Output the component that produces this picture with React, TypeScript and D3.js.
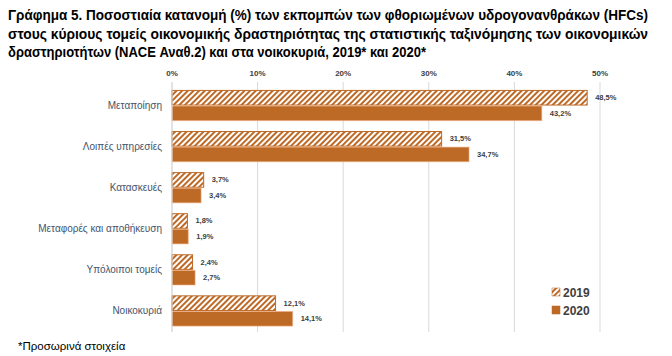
import React from "react";
import * as d3 from "d3";

const categories = [
  "Μεταποίηση",
  "Λοιπές υπηρεσίες",
  "Κατασκευές",
  "Μεταφορές και αποθήκευση",
  "Υπόλοιποι τομείς",
  "Νοικοκυριά",
];
const series = ["2019", "2020"];
const values2019 = [48.5, 31.5, 3.7, 1.8, 2.4, 12.1];
const values2020 = [43.2, 34.7, 3.4, 1.9, 2.7, 14.1];
const xTicks = [0, 10, 20, 30, 40, 50];
const titleLines = [
  "Γράφημα 5. Ποσοστιαία κατανομή (%) των εκπομπών των φθοριωμένων υδρογονανθράκων (HFCs)",
  "στους κύριους τομείς οικονομικής δραστηριότητας της στατιστικής ταξινόμησης των οικονομικών",
  "δραστηριοτήτων (NACE Αναθ.2) και στα νοικοκυριά, 2019* και 2020*",
];
const footnote = "*Προσωρινά στοιχεία";

const W = 672;
const H = 356;
const ORANGE = "#BD6A27";
const TXT = "#404040";
const FONT = "'Liberation Sans', Arial, sans-serif";

export default function App() {
  const x = d3.scaleLinear().domain([0, 50]).range([172, 600]);
  const y = d3
    .scaleBand<string>()
    .domain(categories)
    .range([85, 331.5])
    .paddingInner(0.24)
    .paddingOuter(0.12);
  const ySub = d3.scaleBand<string>().domain(series).range([0, y.bandwidth()]);
  const fmt = (v: number) => v.toFixed(1).replace(".", ",") + "%";
  const data = [values2019, values2020];
  const titleLens = [640, 640, 418];

  return (
    <svg
      width={W}
      height={H}
      style={{ position: "absolute", left: 0, top: 0, background: "#fff" }}
      fontFamily={FONT}
    >
      <defs>
        <pattern
          id="hatch"
          patternUnits="userSpaceOnUse"
          width={4}
          height={4}
          patternTransform="rotate(45)"
        >
          <rect width={4} height={4} fill="#fff" />
          <rect width={2} height={4} fill={ORANGE} />
        </pattern>
      </defs>
      <rect width={W} height={H} fill="#fff" />
      {titleLines.map((t, i) => (
        <text
          key={i}
          x={8}
          y={20 + i * 18.5}
          fontSize={14}
          fontWeight="bold"
          fill="#000"
          textLength={titleLens[i]}
          lengthAdjust="spacingAndGlyphs"
        >
          {t}
        </text>
      ))}
      {xTicks.map((t) => (
        <g key={t}>
          <line
            x1={x(t)}
            x2={x(t)}
            y1={82}
            y2={332}
            stroke="#d9d9d9"
            strokeWidth={1}
          />
          <text
            x={x(t)}
            y={76}
            textAnchor="middle"
            fontSize={8}
            fontWeight="bold"
            fill={TXT}
          >
            {t}%
          </text>
        </g>
      ))}
      {categories.map((c, i) => (
        <g key={c}>
          <text
            x={162}
            y={(y(c) as number) + y.bandwidth() / 2 + 3}
            textAnchor="end"
            fontSize={10}
            fill="#44546A"
          >
            {c}
          </text>
          {series.map((s, j) => {
            const v = data[j][i];
            const by = (y(c) as number) + (ySub(s) as number);
            const bh = ySub.bandwidth();
            return (
              <g key={s}>
                <rect
                  x={x(0)}
                  y={by + 0.5}
                  width={x(v) - x(0)}
                  height={bh - 1}
                  fill={j === 0 ? "url(#hatch)" : ORANGE}
                  stroke={j === 0 ? ORANGE : "#F4B183"}
                  strokeWidth={1}
                  strokeOpacity={j === 0 ? 1 : 0.6}
                />
                <text
                  x={x(v) + 8}
                  y={by + bh / 2 + 2.5}
                  fontSize={7.5}
                  fontWeight="bold"
                  fill={TXT}
                >
                  {fmt(v)}
                </text>
              </g>
            );
          })}
        </g>
      ))}
      <line x1={x(0)} x2={x(0)} y1={82} y2={332} stroke="#d9d9d9" />
      {series.map((s, j) => (
        <g key={s}>
          <rect
            x={552}
            y={288 + j * 18}
            width={8}
            height={8}
            fill={j === 0 ? "url(#hatch)" : ORANGE}
            stroke={ORANGE}
            strokeWidth={0.5}
          />
          <text
            x={563}
            y={297 + j * 18}
            fontSize={12}
            fontWeight="bold"
            fill={TXT}
          >
            {s}
          </text>
        </g>
      ))}
      <text x={18} y={350} fontSize={11.5} fill="#000">
        {footnote}
      </text>
    </svg>
  );
}
